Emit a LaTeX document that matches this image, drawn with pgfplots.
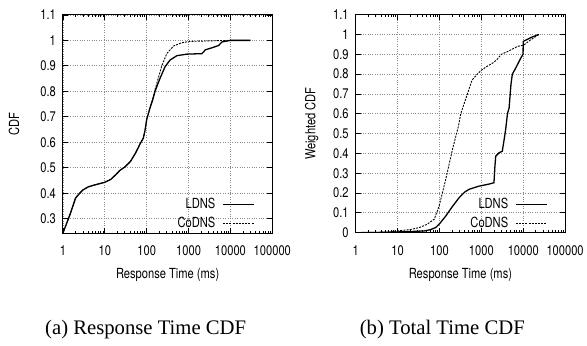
\documentclass[border=0pt]{standalone}
\usepackage{fontspec}
\setmainfont{Liberation Serif}
\newfontfamily\gp[FakeStretch=0.8]{TeX Gyre Heros}
\usepackage{pgfplots}
\pgfplotsset{compat=1.18}
\newcommand{\gpfont}{\gp\fontsize{14}{16}\selectfont}
\begin{document}
\begin{tikzpicture}
\path (0,0) rectangle (587pt,347pt);
\begin{axis}[at={(63.3pt,112.7pt)}, anchor=south west,
  scale only axis, width=210.5pt, height=219.3pt,
  xmode=log, xmin=1, xmax=100000,
  xtick={1,10,100,1000,10000,100000},
  xticklabels={1,10,100,1000,10000,100000},
  grid=major, major grid style={black!45, dotted, line width=0.8pt},
  axis line style={line width=1pt},
  tick style={line width=0.8pt, black},
  major tick length=5pt, minor tick length=2.5pt,
  tick align=inside,
  tick label style={font=\gpfont},
  xticklabel style={anchor=base, yshift=-22.7pt},
  yticklabel style={anchor=east, inner sep=0pt, xshift=-7pt},
  xlabel={Response Time (ms)},
  xlabel style={font=\gpfont, at={(axis description cs:0.5,-0.193)}, anchor=center},
  legend cell align=right, legend plot pos=right,
  legend style={draw=none, fill=none, font=\gpfont,
    at={(axis description cs:1,0)}, anchor=south east,
    xshift=-14.7pt, yshift=1.3pt, row sep=7pt, column sep=7pt,
    nodes={inner sep=0pt, text height=10pt, text depth=2pt}},
  legend image code/.code={\draw[#1] (0pt,0pt) -- (31pt,0pt);},
  ymin=0.244, ymax=1.1,
  ytick={0.3,0.4,0.5,0.6,0.7,0.8,0.9,1,1.1},
  yticklabels={0.3,0.4,0.5,0.6,0.7,0.8,0.9,1,1.1},
  ylabel={CDF},
  ylabel style={font=\gpfont, at={(axis description cs:-0.234,0.5)}, anchor=center}]
\addplot[black, line width=1.3pt] coordinates {
(1,0.244) (1.5,0.32) (2,0.381) (2.5,0.40) (3,0.413) (4,0.425) (5.5,0.432)
(7.6,0.438) (10,0.443) (14,0.455) (18,0.472) (23,0.49) (30,0.503) (41,0.525)
(55,0.56) (70,0.595) (83,0.616) (92,0.65) (100,0.69) (120,0.735) (139,0.766)
(158,0.80) (208,0.851) (275,0.897) (362,0.923) (525,0.940) (910,0.946)
(2080,0.948) (2300,0.955) (2500,0.963) (3630,0.971) (5230,0.98) (6300,0.994)
(10000,1.0) (30000,1.0)};
\addlegendentry{LDNS}
\addplot[black, line width=0.9pt, dash pattern=on 2pt off 1.2pt] coordinates {
(1,0.244) (1.5,0.32) (2,0.381) (2.5,0.40) (3,0.413) (4,0.425) (5.5,0.432)
(7.6,0.438) (10,0.443) (14,0.455) (18,0.472) (23,0.49) (30,0.503) (41,0.525)
(55,0.56) (70,0.595) (83,0.616) (92,0.65) (100,0.69) (120,0.735) (139,0.77)
(160,0.81) (229,0.9) (302,0.948) (437,0.978) (692,0.991) (1100,0.996)
(3000,0.998) (10000,1.0) (30000,1.0)};
\addlegendentry{CoDNS}
\end{axis}
\begin{axis}[at={(357.7pt,113pt)}, anchor=south west,
  scale only axis, width=210.5pt, height=219.3pt,
  xmode=log, xmin=1, xmax=100000,
  xtick={1,10,100,1000,10000,100000},
  xticklabels={1,10,100,1000,10000,100000},
  grid=major, major grid style={black!45, dotted, line width=0.8pt},
  axis line style={line width=1pt},
  tick style={line width=0.8pt, black},
  major tick length=5pt, minor tick length=2.5pt,
  tick align=inside,
  tick label style={font=\gpfont},
  xticklabel style={anchor=base, yshift=-22.7pt},
  yticklabel style={anchor=east, inner sep=0pt, xshift=-7pt},
  xlabel={Response Time (ms)},
  xlabel style={font=\gpfont, at={(axis description cs:0.5,-0.193)}, anchor=center},
  legend cell align=right, legend plot pos=right,
  legend style={draw=none, fill=none, font=\gpfont,
    at={(axis description cs:1,0)}, anchor=south east,
    xshift=-14.7pt, yshift=1.3pt, row sep=7pt, column sep=7pt,
    nodes={inner sep=0pt, text height=10pt, text depth=2pt}},
  legend image code/.code={\draw[#1] (0pt,0pt) -- (31pt,0pt);},
  ymin=0, ymax=1.1,
  ytick={0,0.1,0.2,0.3,0.4,0.5,0.6,0.7,0.8,0.9,1,1.1},
  yticklabels={0,0.1,0.2,0.3,0.4,0.5,0.6,0.7,0.8,0.9,1,1.1},
  ylabel={Weighted CDF},
  ylabel style={font=\gpfont, at={(axis description cs:-0.211,0.5)}, anchor=center}]
\addplot[black, line width=1.3pt] coordinates {
(1,0.0) (5,0.002) (10,0.004) (20,0.006) (43,0.009) (60,0.015) (81,0.026)
(100,0.045) (141,0.084) (200,0.13) (295,0.177) (400,0.205) (510,0.219)
(880,0.235) (1500,0.245) (2000,0.252) (2100,0.33) (2200,0.386) (2640,0.403)
(3160,0.411) (3500,0.47) (3800,0.52) (4200,0.6) (4600,0.63) (4800,0.68)
(5100,0.75) (5500,0.8) (6600,0.83) (8700,0.88) (9900,0.9) (10000,0.965)
(16300,0.987) (23600,1.0)};
\addlegendentry{LDNS}
\addplot[black, line width=0.9pt, dash pattern=on 2pt off 1.2pt] coordinates {
(1,0.0) (5,0.003) (10,0.009) (20,0.016) (33,0.026) (50,0.042) (75,0.068)
(98,0.135) (141,0.269) (204,0.42) (283,0.537) (322,0.6) (464,0.7) (600,0.77)
(803,0.8) (1000,0.82) (1390,0.84) (2000,0.86) (2400,0.875) (3000,0.9)
(4170,0.913) (7200,0.939) (10400,0.947) (14900,0.972) (23600,1.0)};
\addlegendentry{CoDNS}
\end{axis}
\node[anchor=base, font=\fontsize{20.8}{24}\selectfont] at (146.5pt,10.3pt) {(a) Response Time CDF};
\node[anchor=base, font=\fontsize{20.8}{24}\selectfont] at (444.7pt,10.3pt) {(b) Total Time CDF};
\end{tikzpicture}
\end{document}
